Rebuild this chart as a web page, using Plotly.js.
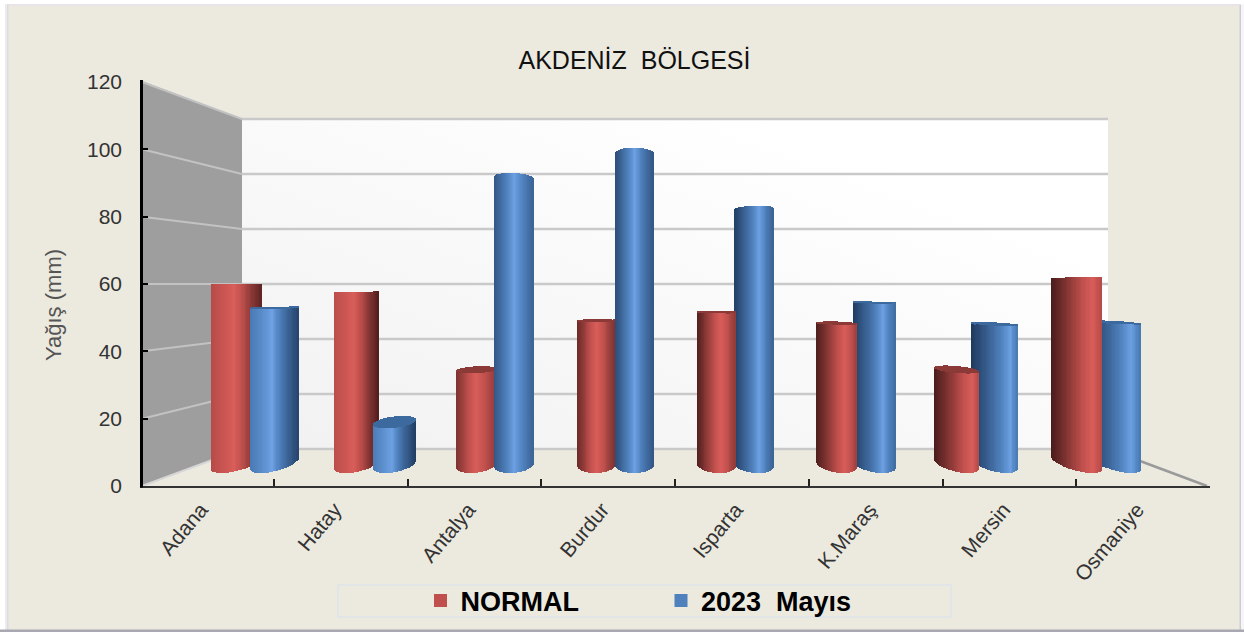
<!DOCTYPE html>
<html><head><meta charset="utf-8">
<script src="https://cdn.plot.ly/plotly-3.0.1.min.js"></script>
<style>html,body{margin:0;padding:0;background:#fff}#c{width:1244px;height:632px}</style>
</head><body><div id="c"></div>
<script>
// ---- data (in axis units) ----
const categories = ["Adana","Hatay","Antalya","Burdur","Isparta","K.Maraş","Mersin","Osmaniye"];
const normalValues = [60,57.9,35.6,49.6,52,48.9,35.8,62];
const mayisValues  = [53.3,20.8,93,100.5,83.3,54.8,48.7,49.2];
const seriesNames = ["NORMAL","2023  Mayıs"];
const yTicks = [0,20,40,60,80,100,120];

// ---- styling / pseudo-3D geometry (separate from data) ----
const PX = {left:140,right:1210,top:82,bottom:486};
const pxPerUnit = (PX.bottom-PX.top)/120;
const catPx = (PX.right-PX.left)/categories.length;
const fx = p => (p-PX.left)/(PX.right-PX.left);
const fy = p => (PX.bottom-p)/(PX.bottom-PX.top);
const peak      = [-.08,-.1,0,.03,.25,.45,.72,.65];
const shadeLeft = [.62,.66,.3,.2,.06,.03,0,0];
const shadeRight= [.12,.05,.42,.3,.42,.5,.62,.62];
const palette = {
  red:{dark:[72,27,26],mid:[192,80,77],high:[218,94,90],cap:[140,58,56]},
  blue:{dark:[30,56,92],mid:[79,129,189],high:[110,162,228],cap:[60,106,158]}
};
const mix=(a,b,u)=>a.map((v,i)=>Math.round(v+(b[i]-v)*u));
const css=c=>`rgb(${c[0]},${c[1]},${c[2]})`;
function shade(pal,i,t){
  const p=peak[i];
  const s=t<p?1-(1-shadeLeft[i])*Math.pow((p-t)/(p+1),.85):1-(1-shadeRight[i])*Math.pow((t-p)/(1-p),.85);
  return css(s<.7?mix(pal.dark,pal.mid,s/.7):mix(pal.mid,pal.high,(s-.7)/.3));
}
const seriesCenterPx=[i=>236.5+120*i, i=>274.3+120*i];
const barWidthPx=xc=>{const d=(xc-630)/400;return 38+d*d*(d<0?13:10)};
const seriesData=[normalValues,mayisValues];
const seriesPal=[palette.red,palette.blue];
// which series is nearer the viewer, per category
const frontSeries=categories.map((c,i)=>i<4?1:0);
const M=40;
const toVal=py=>(PX.bottom-py)/pxPerUnit;
function stripGeom(s,i,t){
  const xc=seriesCenterPx[s](i), w=barWidthPx(xc), v=seriesData[s][i];
  const tiltK=6*(xc-640)/400;
  const arc=Math.sqrt(Math.max(0,1-t*t));
  const h0=8,T0=tiltK;
  const cBase=473-Math.hypot(h0,T0);
  const bottomPy=cBase+h0*arc+T0*t;
  const f=(60-v)/56, h=8*f, T=tiltK*f;
  const topPy=PX.bottom-pxPerUnit*v;
  const c=topPy+Math.hypot(h,T);
  const frontPy=c+h*arc+T*t;
  const backPy=c-h*arc+T*t;
  return {xc,w,h,bottomPy,frontPy,backPy};
}
const traces=[];
[0,1].forEach(layer=>{
  const pick=i=>layer===1?frontSeries[i]:1-frontSeries[i];
  const bodies=[],caps=[];
  for(let k=0;k<M;k++){
    const t=-1+(2*k+1)/M;
    const b={x:[],y:[],base:[],width:[],offset:[],color:[]};
    const c={x:[],y:[],base:[],width:[],offset:[],color:[]};
    categories.forEach((name,i)=>{
      const s=pick(i), g=stripGeom(s,i,t);
      const stripW=g.w/M/catPx;
      const off=((g.xc-(PX.left+catPx*(i+.5)))+t*g.w/2)/catPx-stripW/2;
      b.x.push(name);b.base.push(toVal(g.bottomPy));b.y.push(toVal(g.frontPy)-toVal(g.bottomPy));
      b.width.push(stripW);b.offset.push(off);b.color.push(shade(seriesPal[s],i,t));
      c.x.push(name);c.width.push(stripW);c.offset.push(off);c.color.push(css(seriesPal[s].cap));
      if(g.h>0.4){c.base.push(toVal(g.frontPy));c.y.push(toVal(g.backPy)-toVal(g.frontPy));}
      else{c.base.push(0);c.y.push(null);}
    });
    const mk=o=>({type:'bar',x:o.x,y:o.y,base:o.base,width:o.width,offset:o.offset,marker:{color:o.color,line:{width:0}},showlegend:false,hoverinfo:'skip'});
    bodies.push(mk(b));caps.push(mk(c));
  }
  traces.push(...bodies,...caps);
});
// legend entries
traces.push({type:'scatter',mode:'markers',x:[categories[0]],y:[null],name:seriesNames[0],marker:{symbol:'square',size:13,color:'#C0504D'},hoverinfo:'skip'});
traces.push({type:'scatter',mode:'markers',x:[categories[0]],y:[null],name:seriesNames[1],marker:{symbol:'square',size:13,color:'#4F81BD'},hoverinfo:'skip'});

// ---- walls / floor / frame ----
const wallL=242,wallR=1108,wallT=119,wallB=449,wallUnit=(wallB-wallT)/120;
const path=pts=>'M'+pts.map(p=>fx(p[0])+','+fy(p[1])).join('L')+'Z';
const line=(x0,y0,x1,y1,color,width,layer)=>({type:'line',xref:'paper',yref:'paper',x0:fx(x0),y0:fy(y0),x1:fx(x1),y1:fy(y1),line:{color,width},layer:layer||'below'});
const rect=(x0,y0,x1,y1,color,layer)=>({type:'rect',xref:'paper',yref:'paper',x0:fx(x0),y0:fy(y0),x1:fx(x1),y1:fy(y1),fillcolor:color,line:{width:0},layer:layer||'above'});
const shapes=[];
shapes.push({type:'path',xref:'paper',yref:'paper',path:path([[142,81],[wallL,wallT],[wallL,wallB],[142,486]]),fillcolor:'#9E9E9E',line:{width:0},layer:'below'});
yTicks.forEach(v=>{
  const by=wallB-wallUnit*v, ly=PX.bottom-pxPerUnit*v;
  shapes.push(line(wallL,by,wallR,by,'#C9C9C9',2.5));
  shapes.push(line(142,ly,wallL,by,v===0?'#D6D6D6':'#C2C2C2',2));
});
shapes.push(line(wallR,wallB,1207,486,'#9A9A9A',2.5));
// legend box
shapes.push({type:'rect',xref:'paper',yref:'paper',x0:fx(338),y0:fy(585),x1:fx(951),y1:fy(617),fillcolor:'rgba(0,0,0,0)',line:{color:'#DEE3EA',width:1.5},layer:'below'});
// y axis line
shapes.push(line(141.5,80,141.5,487.5,'#000',3,'above'));
// outer frame
shapes.push(rect(-0,-0,1244,4,'#FFFFFF'),rect(0,4,1244,6,'#E7E4EA'));
shapes.push(rect(0,0,5,632,'#FFFFFF'),rect(5,4,7,630,'#ECEBEE'),rect(7,5,8.5,630,'#DCDBE0'));
shapes.push(rect(1241,4,1244,632,'#F6F6F8'),rect(1239.5,5,1241,630,'#CFCDD4'));
shapes.push(rect(0,629.5,1244,632,'#A9A7B2'));

const gradSvg=`<svg xmlns="http://www.w3.org/2000/svg" width="100" height="100" preserveAspectRatio="none"><defs><linearGradient id="g" x1="0" y1="1" x2="1" y2="0"><stop offset="0" stop-color="#F1F1F1"/><stop offset=".8" stop-color="#FFFFFF"/></linearGradient></defs><rect width="100" height="100" fill="url(#g)"/></svg>`;

const layout={
  width:1244,height:632,autosize:false,
  margin:{l:PX.left,r:1244-PX.right,t:PX.top,b:632-PX.bottom,pad:0,autoexpand:false},
  paper_bgcolor:'#ECEADF',plot_bgcolor:'rgba(0,0,0,0)',
  barmode:'overlay',bargap:0,
  title:{text:'AKDENİZ  BÖLGESİ',x:634.5/1244,xref:'container',xanchor:'center',y:1-60/632,yref:'container',yanchor:'middle',font:{family:'Liberation Sans',size:25,color:'#111'}},
  font:{family:'Liberation Sans',color:'#333'},
  xaxis:{type:'category',categories:categories,categoryorder:'array',categoryarray:categories,range:[-.5,7.5],tickson:'boundaries',ticks:'inside',ticklen:7,tickwidth:1.5,tickcolor:'#222',tickangle:-50,
    tickfont:{family:'Liberation Sans',size:21,color:'#333'},showline:true,linecolor:'#333',linewidth:2,showgrid:false,zeroline:false,ticklabelstandoff:1,ticklabelshift:-6,fixedrange:true},
  yaxis:{range:[0,120],tickvals:yTicks,ticktext:yTicks.map(String),ticks:'inside',ticklen:8,tickwidth:2,tickcolor:'#000',showline:false,showgrid:false,zeroline:false,ticklabelstandoff:17,
    tickfont:{family:'Liberation Sans',size:21,color:'#333'},fixedrange:true},
  annotations:[{text:'Yağış (mm)',xref:'paper',yref:'paper',x:fx(53),y:fy(305),xanchor:'center',yanchor:'middle',textangle:-90,showarrow:false,font:{family:'Liberation Sans',size:22,color:'#555'}}],
  legend:{orientation:'h',x:fx(420.5),xanchor:'left',y:fy(601),yanchor:'middle',entrywidth:195.5,entrywidthmode:'pixels',bgcolor:'rgba(0,0,0,0)',borderwidth:0,font:{family:'Liberation Sans',size:27,weight:700,color:'#000'}},
  images:[{source:'data:image/svg+xml;utf8,'+encodeURIComponent(gradSvg),xref:'paper',yref:'paper',x:fx(wallL),y:fy(wallT),sizex:fx(wallR)-fx(wallL),sizey:fy(wallT)-fy(wallB),sizing:'stretch',layer:'below',xanchor:'left',yanchor:'top'}],
  shapes:shapes
};
Plotly.newPlot('c',traces,layout,{displayModeBar:false,responsive:false});
</script></body></html>
